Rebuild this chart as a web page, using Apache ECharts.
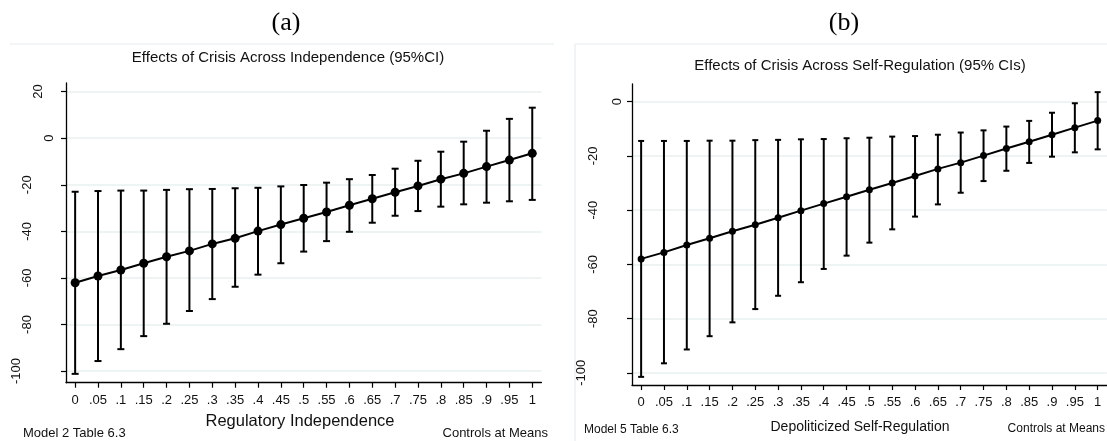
<!DOCTYPE html>
<html>
<head>
<meta charset="utf-8">
<script src="https://cdn.jsdelivr.net/npm/echarts@6/dist/echarts.min.js"></script>
<style>
html, body { margin: 0; padding: 0; background: #fff; }
#chart { width: 1107px; height: 441px; }
</style>
</head>
<body>
<div id="chart"></div>
<script>
// Moderator values on the horizontal axis and their printed tick labels
const moderatorLevels = [0, 0.05, 0.1, 0.15, 0.2, 0.25, 0.3, 0.35, 0.4, 0.45, 0.5,
                         0.55, 0.6, 0.65, 0.7, 0.75, 0.8, 0.85, 0.9, 0.95, 1];
const xTickLabels = ['0', '.05', '.1', '.15', '.2', '.25', '.3', '.35', '.4', '.45', '.5',
                     '.55', '.6', '.65', '.7', '.75', '.8', '.85', '.9', '.95', '1'];

// (a) Marginal effect of crisis across regulatory independence, with 95% CI
const effectIndependence = [-62.1, -59.2, -56.6, -53.7, -50.9, -48.4, -45.4, -43.0, -39.9, -37.1, -34.4,
                            -31.7, -28.8, -26.0, -23.2, -20.5, -17.6, -15.1, -12.2, -9.4, -6.5];
const lowerIndependence = [-101.2, -95.7, -90.6, -85.0, -79.7, -74.2, -69.1, -63.8, -58.6, -53.7, -48.7,
                           -44.2, -40.2, -36.3, -33.3, -31.3, -29.4, -28.4, -27.7, -27.1, -26.5];
const upperIndependence = [-23.0, -22.7, -22.5, -22.5, -22.2, -21.9, -21.8, -21.5, -21.3, -20.7, -20.1,
                           -19.1, -17.6, -15.8, -13.1, -9.7, -5.8, -1.5, 3.2, 8.3, 13.1];
const yTicksIndependence = [-100, -80, -60, -40, -20, 0, 20];

// (b) Marginal effect of crisis across depoliticized self-regulation, with 95% CIs
const effectSelfReg = [-58.0, -55.6, -52.9, -50.4, -47.8, -45.4, -42.8, -40.2, -37.6, -35.1, -32.5,
                       -30.0, -27.4, -24.8, -22.5, -19.9, -17.3, -14.8, -12.2, -9.6, -7.0];
const lowerSelfReg = [-101.5, -96.5, -91.4, -86.5, -81.4, -76.5, -71.6, -66.6, -61.7, -56.8, -52.0,
                      -47.1, -42.4, -37.9, -33.6, -29.3, -25.5, -22.6, -20.3, -18.7, -17.6];
const upperSelfReg = [-14.5, -14.5, -14.5, -14.4, -14.4, -14.2, -14.1, -13.9, -13.8, -13.5, -13.3,
                      -12.9, -12.7, -12.2, -11.4, -10.6, -9.2, -7.1, -4.1, -0.6, 3.5];
const yTicksSelfReg = [-100, -80, -60, -40, -20, 0];

const SANS = '"Liberation Sans", Arial, Helvetica, sans-serif';
const SERIF = '"Liberation Serif", "Times New Roman", serif';
const GRID_GRAY = '#e8eff1';
const FRAME_GRAY = '#e6edf0';

const chart = echarts.init(document.getElementById('chart'), null, { renderer: 'canvas' });

function xLabel(v) {
  const i = moderatorLevels.findIndex(m => Math.abs(m - v) < 1e-6);
  return i >= 0 ? xTickLabels[i] : '';
}

// Vertical y labels: longer labels sit further from the axis
function yLabelRich(step, size) {
  const rich = {};
  for (let n = 1; n <= 4; n++) {
    rich['p' + n] = { fontFamily: SANS, fontSize: size, color: '#111', padding: [0, 0, (n - 1) * step, 0] };
  }
  return rich;
}
function yLabel(v) {
  const s = String(v);
  return '{p' + s.length + '|' + s + '}';
}

function makeXAxis(gridIndex, margin) {
  return {
    type: 'value', gridIndex: gridIndex, min: -0.02, max: 1.02,
    axisLine: { show: true, onZero: false, lineStyle: { color: '#000', width: 1.3 } },
    axisTick: { show: true, length: 5, customValues: moderatorLevels, lineStyle: { color: '#000', width: 1.2 } },
    axisLabel: { customValues: moderatorLevels, formatter: xLabel, margin: margin,
                 fontFamily: SANS, fontSize: 13, color: '#111', hideOverlap: false },
    splitLine: { show: false }
  };
}

function makeYAxis(gridIndex, min, max, ticks, margin, step) {
  return {
    type: 'value', gridIndex: gridIndex, min: min, max: max,
    axisLine: { show: true, onZero: false, lineStyle: { color: '#000', width: 1.3 } },
    axisTick: { show: true, length: 5, customValues: ticks, lineStyle: { color: '#000', width: 1.2 } },
    axisLabel: { customValues: ticks, rotate: 90, margin: margin, formatter: yLabel,
                 rich: yLabelRich(step, 13), hideOverlap: false },
    splitLine: { show: true, lineStyle: { color: GRID_GRAY, width: 1.5 } }
  };
}

// Error bar with end caps, drawn through the axis scales
function errorBar(capHalf) {
  return function (params, api) {
    const x = api.value(0);
    const lo = api.coord([x, api.value(1)]);
    const hi = api.coord([x, api.value(2)]);
    const st = { stroke: '#000', lineWidth: 2 };
    return {
      type: 'group',
      children: [
        { type: 'line', shape: { x1: lo[0], y1: lo[1], x2: hi[0], y2: hi[1] }, style: st },
        { type: 'line', shape: { x1: lo[0] - capHalf, y1: lo[1], x2: lo[0] + capHalf, y2: lo[1] }, style: st },
        { type: 'line', shape: { x1: hi[0] - capHalf, y1: hi[1], x2: hi[0] + capHalf, y2: hi[1] }, style: st }
      ]
    };
  };
}

const ciA = moderatorLevels.map((m, i) => [m, lowerIndependence[i], upperIndependence[i]]);
const ciB = moderatorLevels.map((m, i) => [m, lowerSelfReg[i], upperSelfReg[i]]);
const ptsA = moderatorLevels.map((m, i) => [m, effectIndependence[i]]);
const ptsB = moderatorLevels.map((m, i) => [m, effectSelfReg[i]]);

function txt(x, y, text, size, opts) {
  return {
    type: 'text', x: x, y: y, silent: true,
    style: Object.assign({ text: text, fontFamily: SANS, fontSize: size, fill: '#111',
                           align: 'center', verticalAlign: 'middle' }, opts || {})
  };
}
function rule(x1, y1, x2, y2) {
  return { type: 'line', silent: true, shape: { x1: x1, y1: y1, x2: x2, y2: y2 },
           style: { stroke: FRAME_GRAY, lineWidth: 1.2 } };
}

const option = {
  backgroundColor: '#fff',
  animation: false,
  grid: [
    { left: 66, top: 83, width: 475.4, height: 299.7, containLabel: false },
    { left: 632, top: 84, width: 474.8, height: 301, containLabel: false }
  ],
  xAxis: [makeXAxis(0, 11), makeXAxis(1, 11)],
  yAxis: [
    makeYAxis(0, -105, 23.7, yTicksIndependence, 10, 11),
    makeYAxis(1, -104.5, 6.5, yTicksSelfReg, 8, 12)
  ],
  series: [
    { type: 'custom', xAxisIndex: 0, yAxisIndex: 0, renderItem: errorBar(3.5), data: ciA, z: 2 },
    { type: 'line', xAxisIndex: 0, yAxisIndex: 0, data: ptsA, z: 3,
      symbol: 'circle', symbolSize: 9, showSymbol: true,
      itemStyle: { color: '#000' }, lineStyle: { color: '#000', width: 2 } },
    { type: 'custom', xAxisIndex: 1, yAxisIndex: 1, renderItem: errorBar(3), data: ciB, z: 2 },
    { type: 'line', xAxisIndex: 1, yAxisIndex: 1, data: ptsB, z: 3,
      symbol: 'circle', symbolSize: 7, showSymbol: true,
      itemStyle: { color: '#000' }, lineStyle: { color: '#000', width: 2 } }
  ],
  graphic: [
    rule(10, 44, 554, 44),
    rule(575, 44, 1107, 44),
    rule(575, 44, 575, 441),
    txt(286, 23, '(a)', 26, { fontFamily: SERIF, fill: '#000' }),
    txt(844, 23, '(b)', 26, { fontFamily: SERIF, fill: '#000' }),
    txt(288, 58, 'Effects of Crisis Across Independence (95%CI)', 15),
    txt(860, 66, 'Effects of Crisis Across Self-Regulation (95% CIs)', 15),
    txt(300, 421, 'Regulatory Independence', 16.5),
    txt(860, 427, 'Depoliticized Self-Regulation', 14),
    txt(23, 433, 'Model 2 Table 6.3', 13, { align: 'left' }),
    txt(548, 433, 'Controls at Means', 13, { align: 'right' }),
    txt(584, 430, 'Model 5 Table 6.3', 12, { align: 'left' }),
    txt(1105, 429, 'Controls at Means', 12, { align: 'right' })
  ]
};

chart.setOption(option);
</script>
</body>
</html>
